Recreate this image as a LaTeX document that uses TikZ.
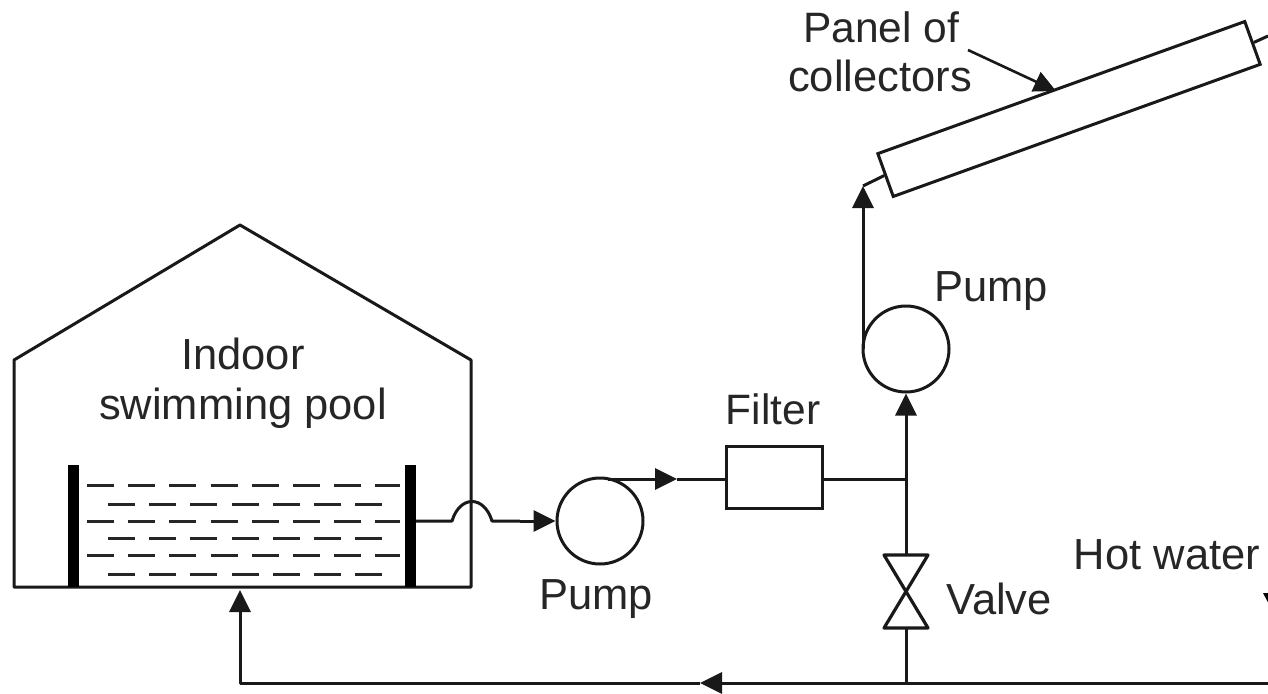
\documentclass[tikz,border=0pt]{standalone}
\usepackage{fontspec}
\setmainfont{Liberation Sans}
\usetikzlibrary{arrows.meta}
\tikzset{
  pipe/.style={line width=3pt,color=black!90,line join=round},
  flow/.style={pipe,-{Triangle[length=22pt,width=21pt]}},
  unit/.style={draw=black!90,line width=3pt,fill=white,inner sep=0pt},
  pumpunit/.style={unit,circle,minimum size=86pt},
  lbl/.style={font=\fontsize{43.5}{50}\selectfont,text=black!85,inner sep=0pt,anchor=base},
  lblsmall/.style={lbl,font=\fontsize{42.5}{48}\selectfont},
  wall/.style={fill=black,draw=none},
  ripple/.style={line width=3pt,color=black!85,dash pattern=on 27pt off 14.2pt},
}
\begin{document}
\begin{tikzpicture}[x=1pt,y=-1pt]
\path[use as bounding box,fill=white] (0,0) rectangle (1268,693);
\clip (0,0) rectangle (1268,693);
% building
\draw[pipe] (14,587) -- (14,360) -- (240,225) -- (471,360) -- (471,587) -- cycle;
% pool
\fill[wall] (68,465) rectangle (79,587);
\fill[wall] (405,465) rectangle (416,587);
\foreach \y in {485,521,555}{\draw[ripple] (87,\y) -- (400,\y);}
\foreach \y in {504,538,574}{\draw[ripple] (108,\y) -- (382,\y);}
% equipment
\node[pumpunit] (pumpA) at (600,521) {};
\node[pumpunit] (pumpB) at (906,349) {};
\node[unit,minimum width=96pt,minimum height=62pt] (filter) at (774,477) {};
\node[unit,minimum width=390pt,minimum height=45.5pt,rotate=19.8] (panel) at (1069,109) {};
% valve
\coordinate (valveTop) at (906,555);
\coordinate (valveBot) at (906,628);
\draw[pipe,line width=3.2pt] (884,555) -- (928,555) -- (884,628) -- (928,628) -- cycle;
% pool outlet with hump over the wall
\coordinate (poolOut) at (416,521);
\coordinate (humpA) at (452,521);
\coordinate (humpB) at (492,521);
\draw[pipe] (poolOut) -- (humpA) .. controls (460,495) and (484,495) .. (humpB) -- (520,521);
\coordinate (arrowA) at (520,521);
\draw[flow] (arrowA) -- (pumpA.west);
% pump to filter
\coordinate (pumpAtop) at (608,479);
\coordinate (arrowF) at (677,479);
\draw[flow] (pumpAtop) -- (arrowF);
\draw[pipe] (arrowF) -- (filter.west |- arrowF);
% junction
\coordinate (junction) at (906,479);
\draw[pipe] (filter.east |- junction) -- (junction);
\draw[flow] (valveTop) -- (pumpB.south);
% pump to panel
\coordinate (pumpBleft) at (863,349);
\coordinate (panelIn) at (863,186);
\draw[flow] (pumpBleft) -- (panelIn);
\draw[pipe] (panelIn) -- (panel.west);
% panel outlet
\coordinate (panelOutEnd) at (1268,36);
\draw[pipe] (panel.east) -- (panelOutEnd);
% return
\coordinate (returnEnd) at (1268,683);
\coordinate (junctionB) at (906,683);
\coordinate (arrowR) at (700,683);
\coordinate (corner) at (240,683);
\coordinate (poolIn) at (240,590);
\draw[pipe] (valveBot) -- (junctionB);
\draw[pipe] (returnEnd) -- (junctionB);
\draw[flow] (junctionB) -- (arrowR);
\draw[flow] (arrowR) -- (corner) -- (poolIn);
\draw[pipe] (arrowR) -- (corner);
% leader
\coordinate (leaderStart) at (968,50);
\coordinate (leaderEnd) at (1056,91);
\draw[flow,line width=2.6pt] (leaderStart) -- (leaderEnd);
% hot water tip (cut by the picture edge)
\fill[black] (1263,593) -- (1282,593) -- (1272,610) -- cycle;
% labels
\node[lblsmall] (t1) at (881,43) {Panel of};
\node[lbl] (t2) at (880,91) {collectors};
\node[lbl] (t3) at (243,369) {Indoor};
\node[lbl] (t4) at (243,419) {swimming pool};
\node[lblsmall] (t5) at (773,424) {Filter};
\node[lbl] (t6) at (991,301) {Pump};
\node[lbl] (t7) at (596,609) {Pump};
\node[lbl] (t8) at (999,614) {Valve};
\node[lbl] (t9) at (1167,569) {Hot water};
\end{tikzpicture}
\end{document}
